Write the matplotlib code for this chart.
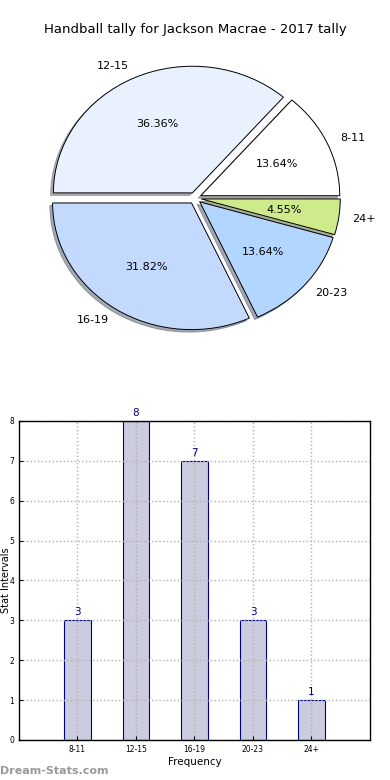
import matplotlib
matplotlib.use("Agg")
import matplotlib.pyplot as plt

### Data
categories = ['8-11', '12-15', '16-19', '20-23', '24+']
counts = [3, 8, 7, 3, 1]
pie_colors = ['#ffffff', '#eaf1fe', '#c4d9fe', '#b3d6fe', '#cfea8a']
title = 'Handball tally for Jackson Macrae - 2017 tally'

fig = plt.figure(figsize=(3.9, 7.8), dpi=100)

### Pie
ax1 = fig.add_axes([0.05, 0.541, 0.90, 0.41])
ax1.pie(counts, labels=categories, colors=pie_colors, autopct='%.2f%%',
        explode=[0.045] * len(counts), startangle=0, radius=0.99,
        shadow={'ox': -0.014, 'oy': -0.014, 'shade': 0.6},
        wedgeprops=dict(edgecolor='black', linewidth=0.7),
        textprops=dict(fontsize=8))
ax1.set_aspect('auto')
ax1.set_xlim(-1.25, 1.25)
ax1.set_ylim(-1.25, 1.25)
fig.text(0.5, 1 - 30 / 780, title, ha='center', va='center', fontsize=9.5)

### Bars
ax2 = fig.add_axes([0.0487, 0.0513, 0.9, 0.409])
pos = list(range(1, len(categories) + 1))
ax2.bar(pos, counts, width=0.45, color='#ccccdf', edgecolor='#00008b', linewidth=0.8)
for x, v in zip(pos, counts):
    ax2.text(x, v + 0.08, str(v), ha='center', va='bottom', color='#00008b', fontsize=7.5)
ax2.set_xlim(0, 6)
ax2.set_ylim(0, 8)
ax2.set_xticks(pos)
ax2.set_xticklabels(categories)
ax2.set_yticks(range(0, 9))
ax2.tick_params(direction='in', labelsize=5.5, length=3, colors='black')
ax2.grid(True, linestyle=':', color='#b0b0b0', linewidth=1, zorder=2.5)
ax2.set_axisbelow(False)
ax2.set_xlabel('Frequency', fontsize=7.5, labelpad=2)
ax2.set_ylabel('Stat Intervals', fontsize=7)
ax2.yaxis.set_label_coords(-0.024, 0.5)
for s in ax2.spines.values():
    s.set_linewidth(1)
    s.set_zorder(5)

fig.text(0.0, 1 - 771 / 780, 'Dream-Stats.com', color='#999999', fontsize=8,
         fontweight='bold', ha='left', va='center')

fig.savefig('out.png', dpi=100)
